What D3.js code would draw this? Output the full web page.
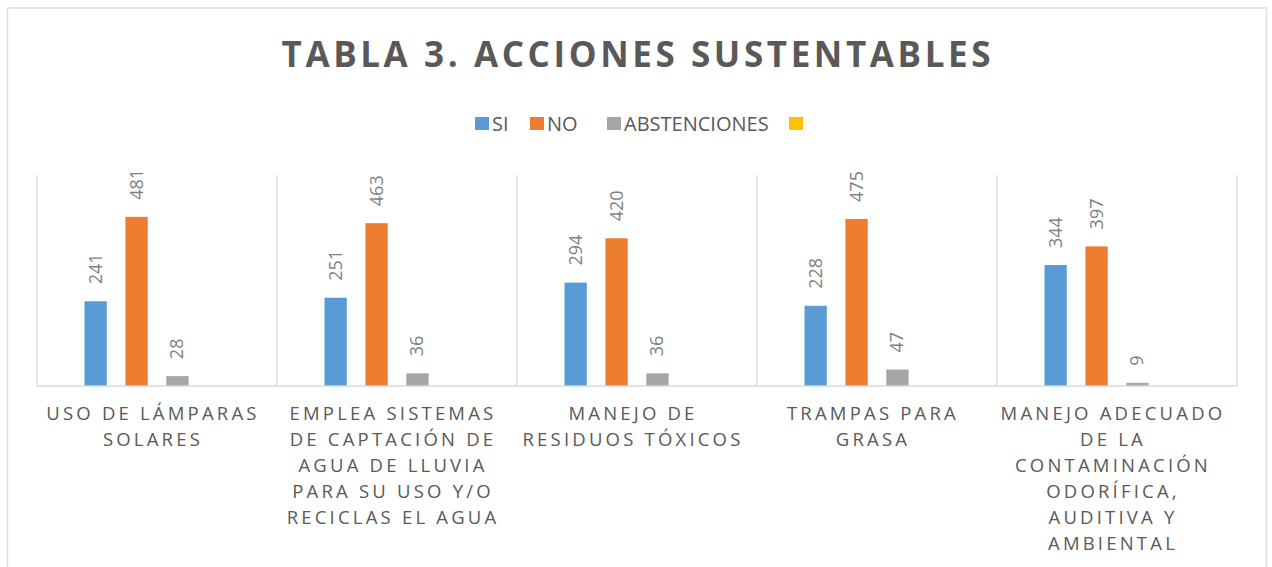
<!DOCTYPE html>
<html>
<head>
<meta charset="utf-8">
<script src="https://cdn.jsdelivr.net/npm/d3@7"></script>
<style>
  body { margin: 0; background: #fff; }
  svg { display: block; font-family: "Open Sans", sans-serif; }
</style>
</head>
<body>
<div id="chart"></div>
<script>
const categories = [
  "USO DE LÁMPARAS SOLARES",
  "EMPLEA SISTEMAS DE CAPTACIÓN DE AGUA DE LLUVIA PARA SU USO Y/O RECICLAS EL AGUA",
  "MANEJO DE RESIDUOS TÓXICOS",
  "TRAMPAS PARA GRASA",
  "MANEJO ADECUADO DE LA CONTAMINACIÓN ODORÍFICA, AUDITIVA Y AMBIENTAL"
];
const seriesNames = ["SI", "NO", "ABSTENCIONES", ""];
const seriesColors = ["#5B9BD5", "#ED7D31", "#A5A5A5", "#FFC000"];
const siValues = [241, 251, 294, 228, 344];
const noValues = [481, 463, 420, 475, 397];
const abstValues = [28, 36, 36, 47, 9];
const blankValues = [null, null, null, null, null];
const yMax = 600;

const width = 1272, height = 567;
const plot = { left: 37, right: 1237, top: 175, bottom: 386 };
const gridColor = "#D9D9D9";
const textColor = "#595959";

const series = [siValues, noValues, abstValues, blankValues];
const rows = categories.map((c, i) => ({
  cat: c,
  vals: series.map((s, k) => ({ k: k, v: s[i] }))
}));

const svg = d3.select("#chart")
  .append("svg")
  .attr("width", width)
  .attr("height", height);

// chart border
svg.append("rect")
  .attr("x", 7.5).attr("y", 8)
  .attr("width", 1259).attr("height", 600)
  .attr("fill", "#fff")
  .attr("stroke", "#E0E0E0")
  .attr("stroke-width", 1.5);

// title
svg.append("text")
  .attr("x", 636).attr("y", 67)
  .attr("text-anchor", "middle")
  .attr("fill", textColor)
  .style("font-size", "35px")
  .style("font-weight", "bold")
  .attr("textLength", 709)
  .attr("lengthAdjust", "spacing")
  .text("TABLA 3. ACCIONES SUSTENTABLES");

// legend
const legendX = [475, 530, 607, 789];
const legend = svg.append("g");
seriesNames.forEach((name, k) => {
  legend.append("rect")
    .attr("x", legendX[k]).attr("y", 117)
    .attr("width", 14).attr("height", 13)
    .attr("fill", seriesColors[k]);
  legend.append("text")
    .attr("x", legendX[k] + 17).attr("y", 130.5)
    .attr("fill", textColor)
    .style("font-size", "20px")
    .text(name);
});

const x = d3.scaleBand()
  .domain(categories)
  .range([plot.left, plot.right])
  .paddingInner(0)
  .paddingOuter(0);

const xInner = d3.scaleBand()
  .domain(d3.range(series.length))
  .range([47.5, 192.5])
  .paddingInner(0.455);

const y = d3.scaleLinear()
  .domain([0, yMax])
  .range([plot.bottom, plot.top]);

// category separators
svg.append("g")
  .selectAll("line")
  .data(categories.concat([null]))
  .join("line")
    .attr("x1", (d, i) => plot.left + i * x.bandwidth())
    .attr("x2", (d, i) => plot.left + i * x.bandwidth())
    .attr("y1", plot.top)
    .attr("y2", plot.bottom)
    .attr("stroke", gridColor)
    .attr("stroke-width", 1.5);

const groups = svg.append("g")
  .selectAll("g")
  .data(rows)
  .join("g")
    .attr("transform", d => `translate(${x(d.cat)},0)`);

groups.selectAll("rect")
  .data(d => d.vals.filter(e => e.v != null))
  .join("rect")
    .attr("x", d => xInner(d.k))
    .attr("width", xInner.bandwidth())
    .attr("y", d => y(d.v))
    .attr("height", d => y(0) - y(d.v))
    .attr("fill", d => seriesColors[d.k]);

groups.selectAll("text.val")
  .data(d => d.vals.filter(e => e.v != null))
  .join("text")
    .attr("class", "val")
    .attr("transform", d => `translate(${xInner(d.k) + xInner.bandwidth() / 2 + 6},${y(d.v) - 17}) rotate(-90)`)
    .attr("fill", "#7F7F7F")
    .style("font-size", "18px")
    .text(d => d.v);

// baseline
svg.append("line")
  .attr("x1", plot.left).attr("x2", plot.right)
  .attr("y1", plot.bottom).attr("y2", plot.bottom)
  .attr("stroke", gridColor)
  .attr("stroke-width", 1.5);

// category labels, wrapped
const labelWidth = 230;
const catLabels = svg.append("g")
  .selectAll("text")
  .data(categories)
  .join("text")
    .attr("text-anchor", "middle")
    .attr("fill", textColor)
    .style("font-size", "18.5px")
    .style("letter-spacing", "3.2px")
    .attr("x", d => x(d) + x.bandwidth() / 2 - 4)
    .attr("y", 420);

catLabels.each(function(d) {
  const t = d3.select(this);
  const cx = +t.attr("x");
  const words = d.split(" ");
  let line = [];
  let tspan = t.append("tspan").attr("x", cx).attr("dy", 0);
  words.forEach(w => {
    line.push(w);
    tspan.text(line.join(" "));
    if (tspan.node().getComputedTextLength() > labelWidth && line.length > 1) {
      line.pop();
      tspan.text(line.join(" "));
      line = [w];
      tspan = t.append("tspan").attr("x", cx).attr("dy", 26).text(w);
    }
  });
});
</script>
</body>
</html>
